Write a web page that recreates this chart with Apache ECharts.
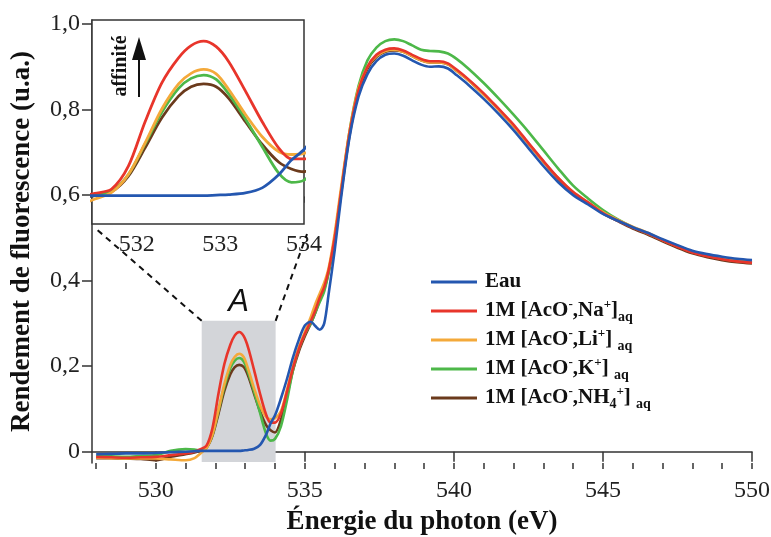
<!DOCTYPE html>
<html>
<head>
<meta charset="utf-8">
<script src="https://cdn.jsdelivr.net/npm/echarts@6/dist/echarts.min.js"></script>
<style>html,body{margin:0;padding:0;background:#fff}#c{width:771px;height:537px}</style>
</head>
<body>
<div id="c"></div>
<script>
// ---- data ----
const energy = [528, 528.5, 529, 529.5, 530, 530.5, 531, 531.3, 531.5, 531.7, 531.9, 532.1, 532.3, 532.5, 532.65, 532.8, 532.95, 533.1, 533.3, 533.5, 533.7, 533.85, 534.0, 534.2, 534.4, 534.6, 534.8, 535.0, 535.2, 535.35, 535.5, 535.65, 535.8, 536.0, 536.2, 536.5, 536.8, 537.1, 537.4, 537.7, 538.0, 538.3, 538.6, 538.9, 539.2, 539.5, 539.8, 540.1, 540.5, 541, 541.5, 542, 542.5, 543, 543.5, 544, 544.5, 545, 545.5, 546, 546.5, 547, 547.5, 548, 548.5, 549, 549.5, 550];
const eau = [-0.006, -0.005, -0.004, -0.004, -0.003, -0.001, 0.000, 0.001, 0.002, 0.002, 0.002, 0.002, 0.002, 0.002, 0.002, 0.002, 0.003, 0.004, 0.007, 0.016, 0.04, 0.066, 0.085, 0.125, 0.17, 0.22, 0.262, 0.295, 0.304, 0.294, 0.285, 0.30, 0.37, 0.47, 0.585, 0.735, 0.83, 0.883, 0.913, 0.928, 0.931, 0.926, 0.915, 0.905, 0.900, 0.901, 0.896, 0.880, 0.857, 0.825, 0.79, 0.752, 0.71, 0.668, 0.63, 0.600, 0.578, 0.556, 0.540, 0.525, 0.512, 0.497, 0.483, 0.470, 0.462, 0.456, 0.451, 0.448];
const na = [-0.012, -0.013, -0.014, -0.013, -0.012, -0.008, -0.004, 0.000, 0.006, 0.014, 0.055, 0.135, 0.205, 0.25, 0.272, 0.28, 0.27, 0.243, 0.19, 0.135, 0.087, 0.068, 0.068, 0.09, 0.14, 0.195, 0.24, 0.275, 0.305, 0.33, 0.36, 0.385, 0.425, 0.50, 0.60, 0.745, 0.845, 0.90, 0.928, 0.94, 0.943, 0.938, 0.928, 0.918, 0.913, 0.913, 0.908, 0.893, 0.87, 0.838, 0.802, 0.765, 0.722, 0.68, 0.64, 0.607, 0.583, 0.558, 0.54, 0.524, 0.51, 0.494, 0.479, 0.466, 0.457, 0.45, 0.445, 0.442];
const li = [-0.014, -0.015, -0.016, -0.016, -0.016, -0.018, -0.02, -0.015, -0.004, 0.008, 0.04, 0.097, 0.158, 0.203, 0.222, 0.229, 0.221, 0.193, 0.148, 0.108, 0.081, 0.076, 0.078, 0.095, 0.145, 0.2, 0.245, 0.28, 0.315, 0.345, 0.37, 0.395, 0.43, 0.51, 0.61, 0.75, 0.85, 0.90, 0.925, 0.937, 0.94, 0.935, 0.925, 0.915, 0.91, 0.91, 0.906, 0.89, 0.868, 0.835, 0.8, 0.762, 0.72, 0.678, 0.64, 0.607, 0.583, 0.56, 0.542, 0.526, 0.512, 0.495, 0.48, 0.467, 0.458, 0.451, 0.446, 0.443];
const k = [-0.01, -0.011, -0.012, -0.01, -0.008, 0.002, 0.006, 0.005, 0.003, 0.01, 0.04, 0.095, 0.152, 0.195, 0.213, 0.219, 0.211, 0.185, 0.14, 0.09, 0.042, 0.026, 0.03, 0.06, 0.12, 0.19, 0.24, 0.275, 0.30, 0.325, 0.35, 0.375, 0.42, 0.50, 0.60, 0.75, 0.855, 0.915, 0.945, 0.96, 0.964, 0.96, 0.95, 0.94, 0.937, 0.936, 0.931, 0.918, 0.895, 0.862, 0.826, 0.788, 0.748, 0.705, 0.662, 0.622, 0.592, 0.565, 0.543, 0.525, 0.51, 0.495, 0.481, 0.468, 0.459, 0.452, 0.447, 0.444];
const nh4 = [-0.015, -0.015, -0.016, -0.017, -0.02, -0.012, -0.006, -0.002, 0.002, 0.009, 0.037, 0.088, 0.142, 0.181, 0.198, 0.203, 0.198, 0.177, 0.135, 0.094, 0.062, 0.05, 0.045, 0.075, 0.13, 0.19, 0.235, 0.27, 0.30, 0.325, 0.355, 0.38, 0.42, 0.495, 0.595, 0.74, 0.84, 0.895, 0.923, 0.935, 0.938, 0.935, 0.925, 0.915, 0.91, 0.91, 0.906, 0.89, 0.868, 0.835, 0.8, 0.762, 0.72, 0.678, 0.638, 0.605, 0.581, 0.557, 0.539, 0.522, 0.508, 0.492, 0.477, 0.464, 0.455, 0.448, 0.443, 0.44];

const seriesNames = ['Eau', '1M [AcO-,Na+]aq', '1M [AcO-,Li+] aq', '1M [AcO-,K+] aq', '1M [AcO-,NH4+] aq'];
const legendRich = [
  'Eau',
  '1M [AcO{sup|-},Na{sup|+}]{sub|aq}',
  '1M [AcO{sup|-},Li{sup|+}] {sub|aq}',
  '1M [AcO{sup|-},K{sup|+}] {sub|aq}',
  '1M [AcO{sup|-},NH{sub|4}{sup|+}] {sub|aq}'
];
const seriesValues = [eau, na, li, k, nh4];
const colors = ['#2457b0', '#e8352b', '#f4a93a', '#4db849', '#6b3a1c'];

const xTickMajor = [530, 535, 540, 545, 550];
const xTickMinor = [528, 529, 530, 531, 532, 533, 534, 535, 536, 537, 538, 539, 540, 541, 542, 543, 544, 545, 546, 547, 548, 549, 550];
const yTicks = [0, 0.2, 0.4, 0.6, 0.8, 1.0];
const insetTicks = [532, 532.5, 533, 533.5, 534];
const insetLabels = [532, 533, 534];
const regionA = [531.54, 534.02, 0.306];

const serif = 'Liberation Serif';
const chart = echarts.init(document.getElementById('c'), null, {renderer: 'canvas'});

function pts(vals) { return energy.map((e, i) => [e, vals[i]]); }

const drawOrder = [4, 3, 2, 1, 0];
const series = [];
drawOrder.forEach(i => {
  series.push({
    type: 'line', name: seriesNames[i], xAxisIndex: 0, yAxisIndex: 0,
    data: pts(seriesValues[i]), showSymbol: false, smooth: 0.3,
    lineStyle: {color: colors[i], width: 2.6}, itemStyle: {color: colors[i]},
    z: 3, silent: true
  });
  series.push({
    type: 'line', name: seriesNames[i], xAxisIndex: 2, yAxisIndex: 1,
    data: pts(seriesValues[i]), showSymbol: false, smooth: 0.3, clip: true,
    lineStyle: {color: colors[i], width: 2.8}, itemStyle: {color: colors[i]},
    z: 3, silent: true
  });
});
series.push({
  type: 'line', name: 'regionA', xAxisIndex: 0, yAxisIndex: 0, data: [], silent: true,
  markArea: {
    silent: true,
    itemStyle: {color: '#d3d5d9'},
    label: {show: true, position: 'top', formatter: 'A', distance: 3,
      fontFamily: 'Liberation Sans', fontStyle: 'italic', fontSize: 31, color: '#111'},
    data: [[{coord: [regionA[0], -0.024]}, {coord: [regionA[1], regionA[2]]}]]
  }
});

const axisColor = '#333';
chart.setOption({
  animation: false,
  backgroundColor: '#fff',
  grid: [
    {left: 92, right: 19, top: 20, bottom: 74, outerBoundsMode: 'none', containLabel: false},
    {left: 92, top: 20, width: 212, height: 204, show: true, backgroundColor: '#fff',
      borderColor: axisColor, borderWidth: 1.5, z: 1, outerBoundsMode: 'none', containLabel: false}
  ],
  xAxis: [
    {type: 'value', gridIndex: 0, min: 527.86, max: 550, position: 'bottom',
      axisLine: {lineStyle: {color: axisColor, width: 1.5}},
      axisTick: {customValues: xTickMajor, length: 10, lineStyle: {color: axisColor, width: 1.5}},
      axisLabel: {customValues: xTickMajor, fontFamily: serif, fontSize: 24, color: '#222', margin: 16},
      splitLine: {show: false},
      name: 'Énergie du photon (eV)', nameLocation: 'middle', nameGap: 46,
      nameTextStyle: {fontFamily: serif, fontWeight: 'bold', fontSize: 27, color: '#111'}},
    {type: 'value', gridIndex: 0, min: 527.86, max: 550, position: 'bottom',
      axisLine: {show: false},
      axisTick: {customValues: xTickMinor, length: 6, lineStyle: {color: axisColor, width: 1.5}},
      axisLabel: {show: false}, splitLine: {show: false}},
    {type: 'value', gridIndex: 1, min: 531.465, max: 534.0, position: 'bottom',
      axisLine: {lineStyle: {color: axisColor, width: 1.5}},
      axisTick: {customValues: insetTicks, length: 6, lineStyle: {color: axisColor, width: 1.5}},
      axisLabel: {customValues: insetLabels, fontFamily: serif, fontSize: 24, color: '#222', margin: 9},
      splitLine: {show: false}}
  ],
  yAxis: [
    {type: 'value', gridIndex: 0, min: -0.0264, max: 1.0094,
      axisLine: {show: true, lineStyle: {color: axisColor, width: 1.5}},
      axisTick: {show: true, customValues: yTicks, length: 10, lineStyle: {color: axisColor, width: 1.5}},
      axisLabel: {customValues: yTicks, fontFamily: serif, fontSize: 24, color: '#222', margin: 12,
        formatter: v => (Math.abs(v) < 1e-9 ? '0' : v.toFixed(1).replace('.', ','))},
      splitLine: {show: false},
      name: 'Rendement de fluorescence (u.a.)', nameLocation: 'middle', nameGap: 56,
      nameTextStyle: {fontFamily: serif, fontWeight: 'bold', fontSize: 27, color: '#111'}},
    {type: 'value', gridIndex: 1, min: -0.049, max: 0.318, show: false}
  ],
  legend: {
    orient: 'vertical', left: 426, top: 264, itemWidth: 46, itemHeight: 3, itemGap: 3,
    icon: 'rect', data: seriesNames, selectedMode: false,
    formatter: name => legendRich[seriesNames.indexOf(name)],
    textStyle: {fontFamily: serif, fontWeight: 'bold', fontSize: 21, color: '#111', lineHeight: 26, padding: [0, 0, 0, 3],
      rich: {
        sup: {fontFamily: serif, fontWeight: 'bold', fontSize: 13, color: '#111', lineHeight: 13, verticalAlign: 'top'},
        sub: {fontFamily: serif, fontWeight: 'bold', fontSize: 14, color: '#111', lineHeight: 14, verticalAlign: 'bottom'}
      }}
  },
  series: series
});

// annotations: dashed connectors + "affinité" arrow
const gTL = chart.convertToPixel({gridIndex: 0}, [regionA[0], regionA[2]]);
const gTR = chart.convertToPixel({gridIndex: 0}, [regionA[1], regionA[2]]);
const iBL = chart.convertToPixel({gridIndex: 1}, [531.465, -0.049]);
const iBR = chart.convertToPixel({gridIndex: 1}, [534.0, -0.049]);
const dash = {stroke: '#111', lineWidth: 2, lineDash: [6, 5]};
chart.setOption({
  graphic: [
    {type: 'line', shape: {x1: gTL[0], y1: gTL[1], x2: iBL[0] + 2, y2: iBL[1] + 3}, style: dash, z: 10, silent: true},
    {type: 'line', shape: {x1: gTR[0], y1: gTR[1], x2: iBR[0] + 3, y2: iBR[1] + 10}, style: dash, z: 10, silent: true},
    {type: 'text', x: 121, y: 66, rotation: Math.PI / 2, z: 10, silent: true,
      style: {text: 'affinité', fontFamily: serif, fontWeight: 'bold', fontSize: 20, fill: '#111',
        align: 'center', verticalAlign: 'middle'}},
    {type: 'line', shape: {x1: 139, y1: 97, x2: 139, y2: 55}, style: {stroke: '#111', lineWidth: 2}, z: 10, silent: true},
    {type: 'polygon', shape: {points: [[132, 60], [146, 60], [139, 37]]}, style: {fill: '#111'}, z: 10, silent: true}
  ]
});
</script>
</body>
</html>
